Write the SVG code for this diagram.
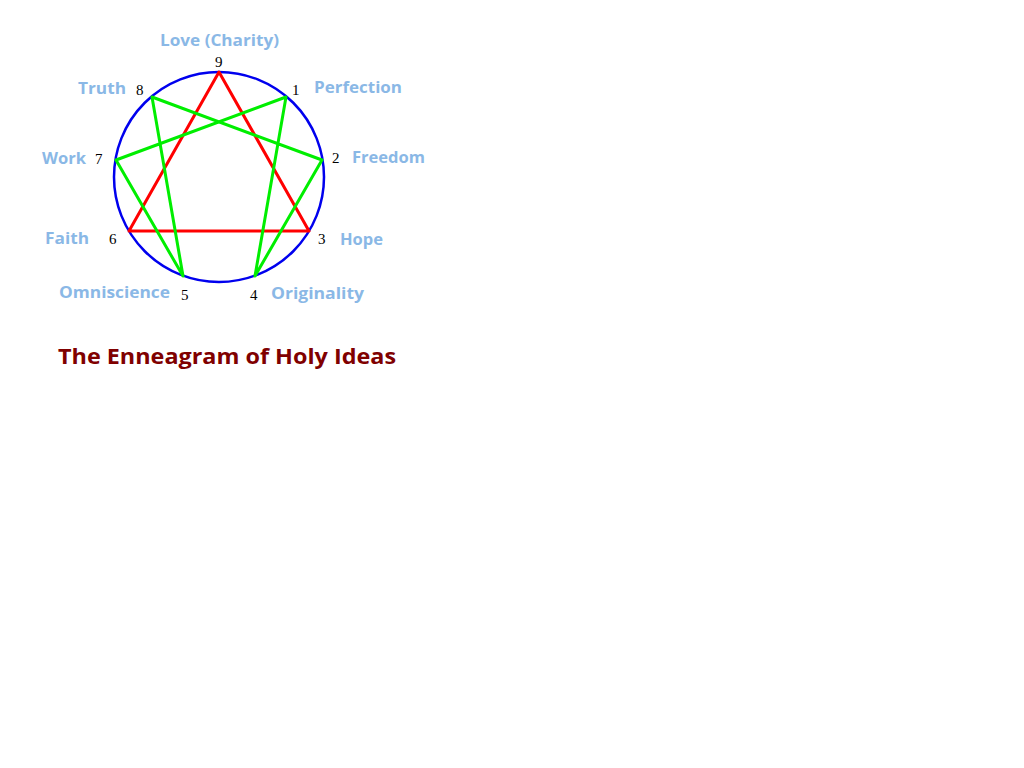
<svg xmlns="http://www.w3.org/2000/svg" width="1024" height="768" viewBox="0 0 1024 768">
<style>
.lbl{font-family:"Open Sans","DejaVu Sans",sans-serif;font-weight:bold;font-size:16px;fill:#8ab8e6}
.num{font-family:"Liberation Serif",serif;font-size:15px;fill:#000}
.title{font-family:"Open Sans","DejaVu Sans",sans-serif;font-weight:bold;font-size:22px;fill:#800000}
</style>
<rect width="1024" height="768" fill="#fff"/>
<g id="circle"><circle cx="219" cy="177" r="105" fill="none" stroke="#0000ee" stroke-width="2.5"/></g>
<g id="connectors" fill="none" stroke-width="3" stroke-linejoin="round">
<polygon points="219,72 309,231 129,231" stroke="#ff0000"/>
<polygon points="286,97 255,276 322,160 152,97 183,276 116,160" stroke="#00ee00"/>
</g>
<g id="numbers">
<text class="num" x="215" y="67">9</text>
<text class="num" x="292" y="95">1</text>
<text class="num" x="332" y="163">2</text>
<text class="num" x="318" y="244">3</text>
<text class="num" x="250" y="300">4</text>
<text class="num" x="181" y="300">5</text>
<text class="num" x="109" y="244">6</text>
<text class="num" x="95" y="164">7</text>
<text class="num" x="136" y="95">8</text>
</g>
<g id="labels">
<text class="lbl" x="160" y="46" textLength="119" lengthAdjust="spacingAndGlyphs">Love (Charity)</text>
<text class="lbl" x="314" y="93" textLength="88" lengthAdjust="spacingAndGlyphs">Perfection</text>
<text class="lbl" x="352" y="163" textLength="73" lengthAdjust="spacingAndGlyphs">Freedom</text>
<text class="lbl" x="340" y="245" textLength="43" lengthAdjust="spacingAndGlyphs">Hope</text>
<text class="lbl" x="271" y="299" textLength="93" lengthAdjust="spacingAndGlyphs">Originality</text>
<text class="lbl" x="59" y="298" textLength="111" lengthAdjust="spacingAndGlyphs">Omniscience</text>
<text class="lbl" x="45" y="244" textLength="44" lengthAdjust="spacingAndGlyphs">Faith</text>
<text class="lbl" x="42" y="164" textLength="44" lengthAdjust="spacingAndGlyphs">Work</text>
<text class="lbl" x="78" y="94" textLength="48" lengthAdjust="spacingAndGlyphs">Truth</text>
</g>
<g id="title"><text class="title" x="58" y="364" textLength="338" lengthAdjust="spacingAndGlyphs">The Enneagram of Holy Ideas</text></g>
</svg>
